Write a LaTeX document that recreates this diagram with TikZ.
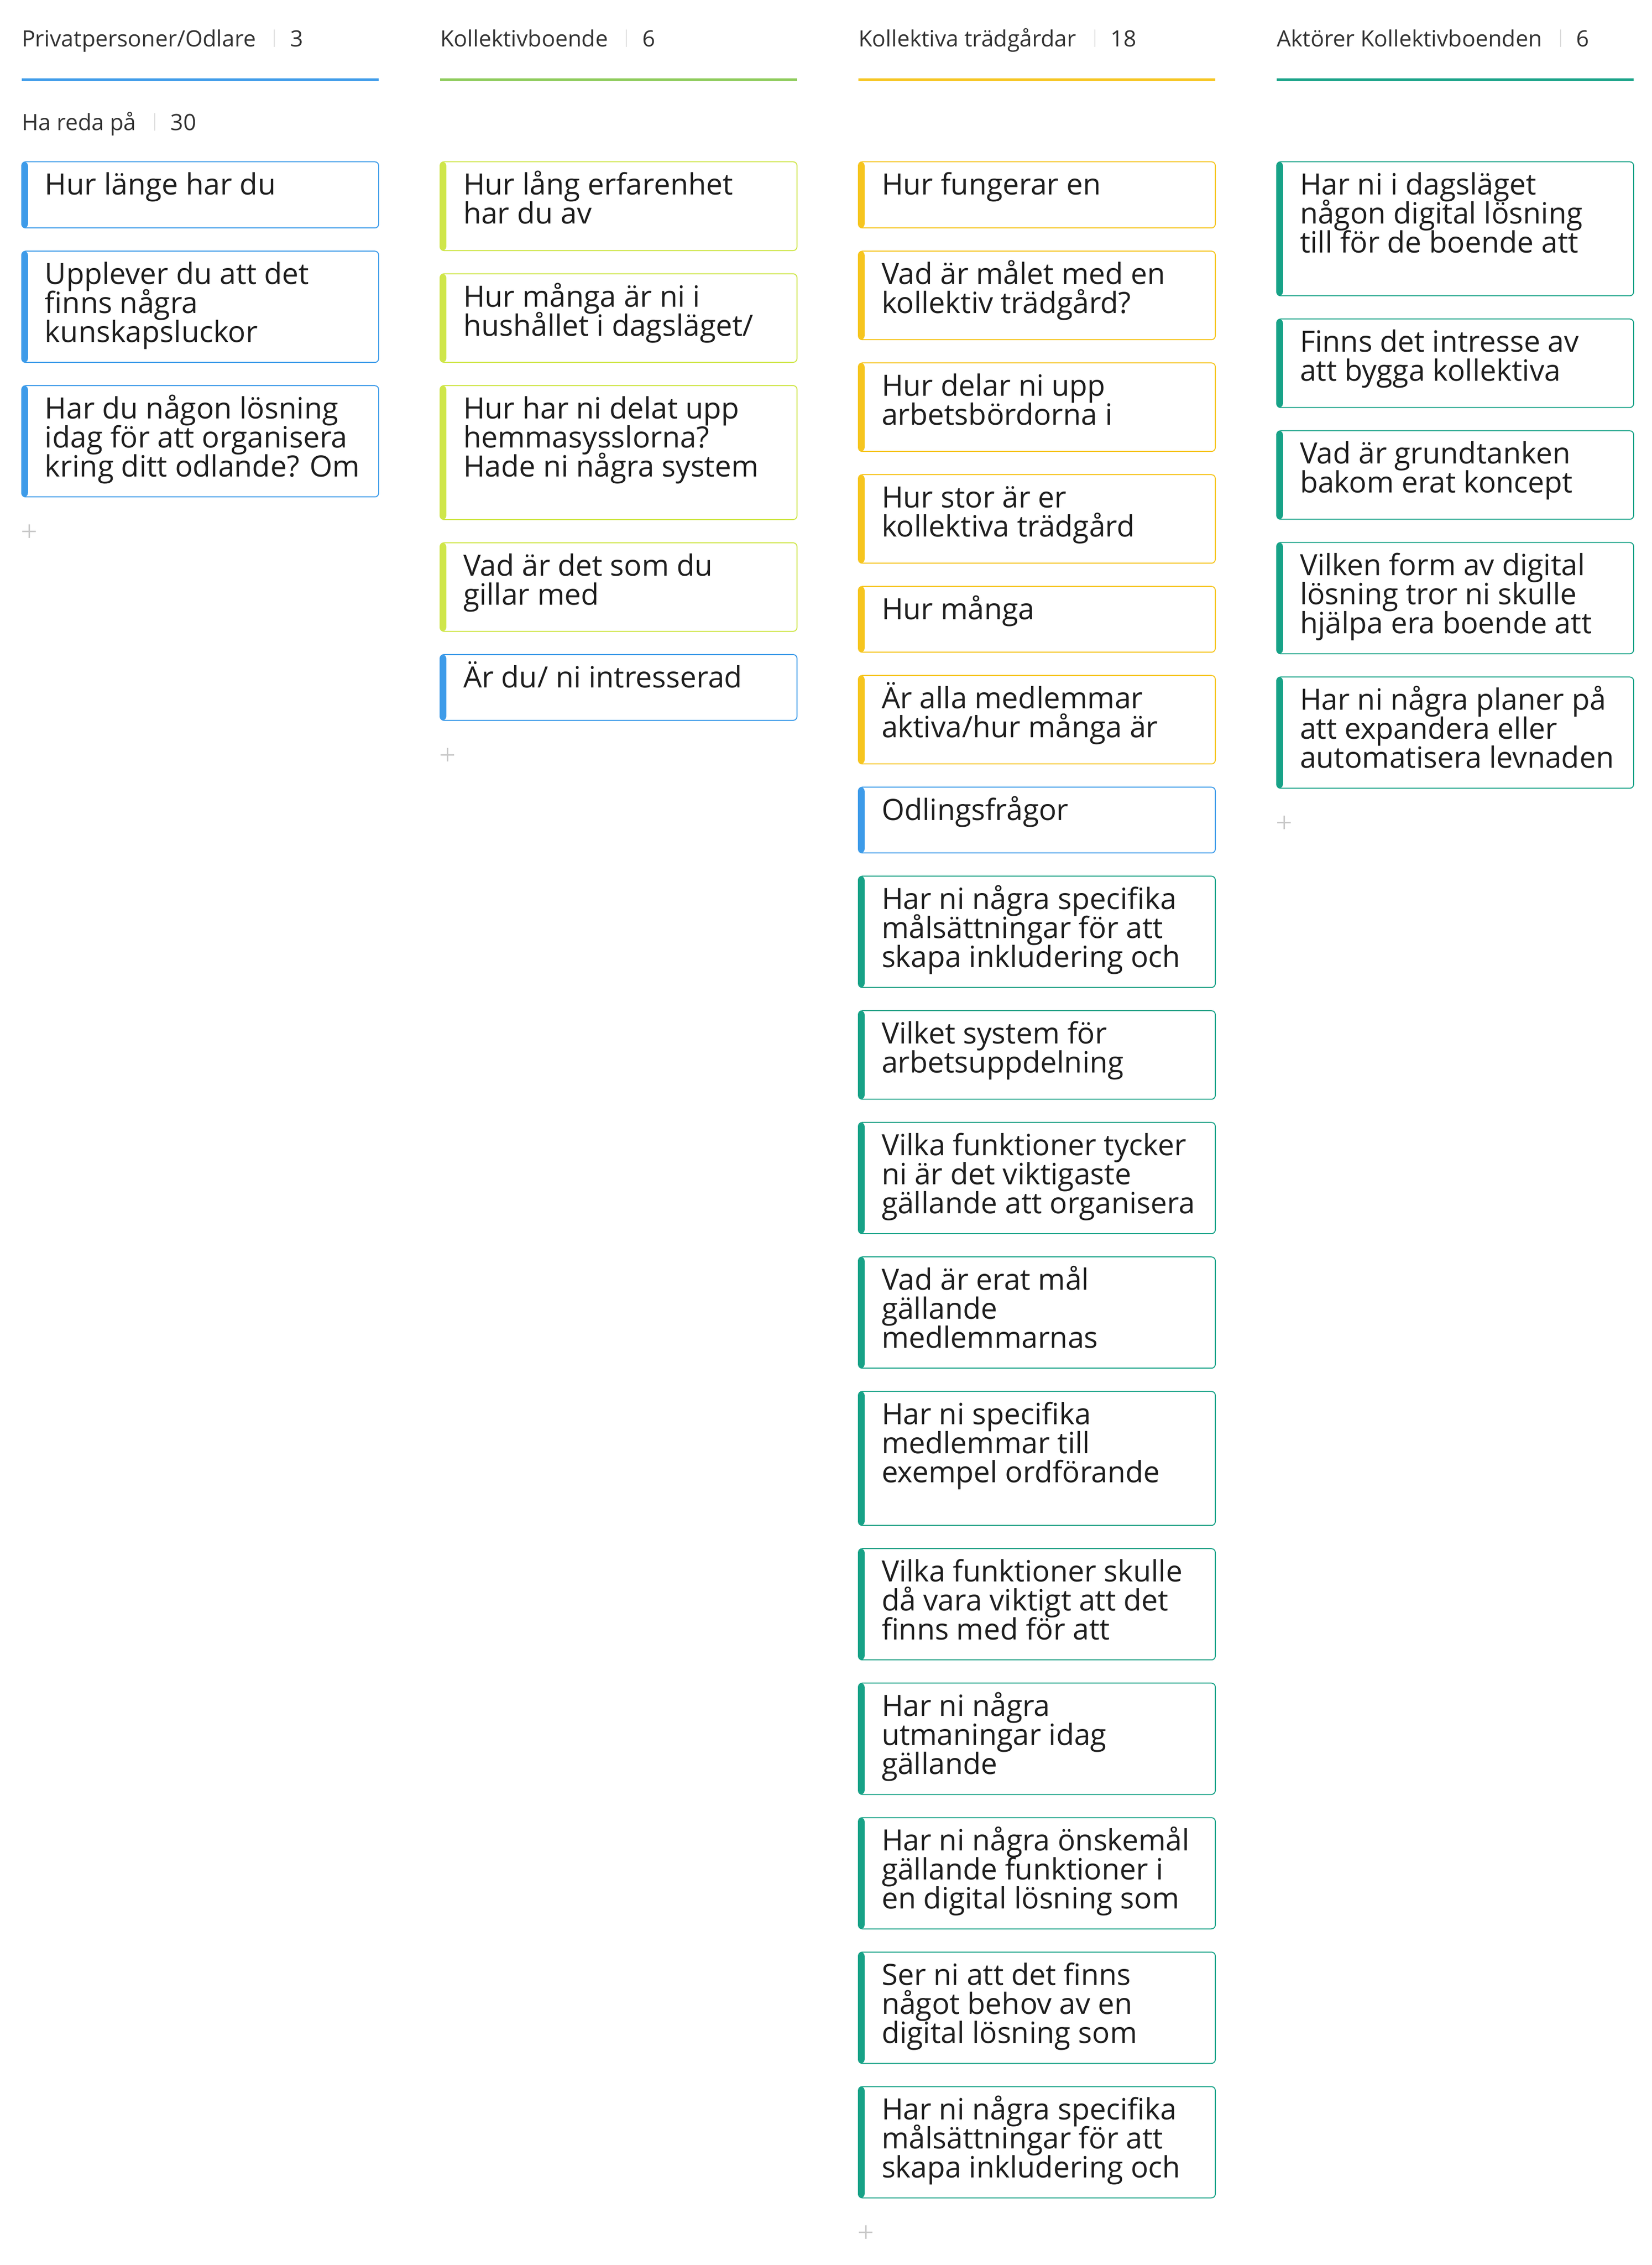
\documentclass[tikz,border=0pt]{standalone}
\usepackage{fontspec}
\setmainfont{Open Sans}
\usetikzlibrary{calc}
\definecolor{cblue}{HTML}{3D9BE9}
\definecolor{cgreen}{HTML}{8DCB5A}
\definecolor{clime}{HTML}{CFE64A}
\definecolor{cyellow}{HTML}{F6C51F}
\definecolor{cteal}{HTML}{17A287}
\definecolor{cardink}{HTML}{1E1E1E}
\definecolor{headink}{HTML}{333333}
\definecolor{sepgray}{HTML}{DCDCDC}
\definecolor{plusgray}{HTML}{C8C8C8}
\newcommand\cardfont{\fontsize{15.15pt}{15pt}\selectfont\lineskiplimit=-30pt\relax}
\newcommand\headfont{\fontsize{11.6pt}{14pt}\selectfont}
\newcommand\qcard[5]{%
  \node[card=#4, minimum height=#3, #2] (#1) {};
  \node[cardtext] (#1t) at ([xshift=12pt,yshift=-17pt]#1.north west)
    {\parbox[t]{174pt}{\lineskiplimit=-30pt\raggedright #5}};
}
\newcommand\colhead[5]{%
  \node[headtext] (#1) at (#2,#3) {#4};
  \node[headtext] (#1n) at ([xshift=17.75pt]#1.base east) {#5};
  \draw[sepline] ([xshift=9.5pt,yshift=-0.25pt]#1.base east) -- ++(0,9pt);
}
\newcommand\addplus[2]{%
  \coordinate (#1) at ([xshift=3.75pt,yshift=-17.75pt]#2.south west);
  \draw[plusmark] ([xshift=-3.5pt]#1) -- ([xshift=3.5pt]#1)
                  ([yshift=-3.5pt]#1) -- ([yshift=3.5pt]#1);
}
\begin{document}
\begin{tikzpicture}[x=1pt,y=1pt,
  card/.style={draw=#1, line width=0.5pt, rounded corners=2pt,
    minimum width=184.5pt, inner sep=0pt, outer sep=0pt, fill=white,
    anchor=north west,
    path picture={\fill[#1] (path picture bounding box.south west)
       rectangle ([xshift=3.2pt]path picture bounding box.north west);}},
  cardtext/.style={anchor=base west, inner sep=0pt, outer sep=0pt,
    text=cardink, font=\cardfont},
  headtext/.style={anchor=base west, inner sep=0pt, outer sep=0pt,
    text=headink, font=\headfont},
  sepline/.style={draw=sepgray, line width=0.5pt},
  hbar/.style={anchor=north west, minimum width=184.5pt, minimum height=1.25pt,
    inner sep=0pt, outer sep=0pt, fill=#1, draw=none},
  plusmark/.style={draw=plusgray, line width=0.75pt}
]
\useasboundingbox[fill=white] (0,0) rectangle (854,-1170.5);

% ---------- headers ----------
\colhead{h1}{11.25}{-24}{Privatpersoner/Odlare}{3}
\colhead{h2}{227.5}{-24}{Kollektivboende}{6}
\colhead{h3}{443.75}{-24}{Kollektiva trädgårdar}{18}
\colhead{h4}{660}{-24}{Aktörer Kollektivboenden}{6}
\node[hbar=cblue]   (b1) at (11.25,-40.5) {};
\node[hbar=cgreen]  (b2) at (227.5,-40.5) {};
\node[hbar=cyellow] (b3) at (443.75,-40.5) {};
\node[hbar=cteal]   (b4) at (660,-40.5) {};
\colhead{g1}{11.25}{-67.25}{Ha reda på}{30}

% ---------- column 1 ----------
\qcard{a1}{at={(11.25,-83.6)}}{34.2pt}{cblue}{Hur länge har du}
\qcard{a2}{at={([yshift=-12pt]a1.south west)}}{57.5pt}{cblue}{Upplever du att det\\finns några\\kunskapsluckor}
\qcard{a3}{at={([yshift=-12pt]a2.south west)}}{57.5pt}{cblue}{Har du någon lösning\\idag för att organisera\\kring ditt odlande? Om}
\addplus{pa}{a3}

% ---------- column 2 ----------
\qcard{k1}{at={(227.5,-83.6)}}{45.9pt}{clime}{Hur lång erfarenhet\\har du av}
\qcard{k2}{at={([yshift=-12pt]k1.south west)}}{45.75pt}{clime}{Hur många är ni i\\hushållet i dagsläget/}
\qcard{k3}{at={([yshift=-12pt]k2.south west)}}{69.25pt}{clime}{Hur har ni delat upp\\hemmasysslorna?\\Hade ni några system}
\qcard{k4}{at={([yshift=-12pt]k3.south west)}}{45.75pt}{clime}{Vad är det som du\\gillar med}
\qcard{k5}{at={([yshift=-12pt]k4.south west)}}{34pt}{cblue}{Är du/ ni intresserad}
\addplus{pk}{k5}

% ---------- column 3 ----------
\qcard{t1}{at={(443.75,-83.6)}}{34.2pt}{cyellow}{Hur fungerar en}
\qcard{t2}{at={([yshift=-12pt]t1.south west)}}{45.75pt}{cyellow}{Vad är målet med en\\kollektiv trädgård?}
\qcard{t3}{at={([yshift=-12pt]t2.south west)}}{45.75pt}{cyellow}{Hur delar ni upp\\arbetsbördorna i}
\qcard{t4}{at={([yshift=-12pt]t3.south west)}}{45.75pt}{cyellow}{Hur stor är er\\kollektiva trädgård}
\qcard{t5}{at={([yshift=-12pt]t4.south west)}}{34pt}{cyellow}{Hur många}
\qcard{t6}{at={([yshift=-12pt]t5.south west)}}{45.75pt}{cyellow}{Är alla medlemmar\\aktiva/hur många är}
\qcard{t7}{at={([yshift=-12pt]t6.south west)}}{34pt}{cblue}{Odlingsfrågor}
\qcard{t8}{at={([yshift=-12pt]t7.south west)}}{57.5pt}{cteal}{Har ni några specifika\\målsättningar för att\\skapa inkludering och}
\qcard{t9}{at={([yshift=-12pt]t8.south west)}}{45.75pt}{cteal}{Vilket system för\\arbetsuppdelning}
\qcard{t10}{at={([yshift=-12pt]t9.south west)}}{57.5pt}{cteal}{Vilka funktioner tycker\\ni är det viktigaste\\gällande att organisera}
\qcard{t11}{at={([yshift=-12pt]t10.south west)}}{57.5pt}{cteal}{Vad är erat mål\\gällande\\medlemmarnas}
\qcard{t12}{at={([yshift=-12pt]t11.south west)}}{69.25pt}{cteal}{Har ni specifika\\medlemmar till\\exempel ordförande}
\qcard{t13}{at={([yshift=-12pt]t12.south west)}}{57.5pt}{cteal}{Vilka funktioner skulle\\då vara viktigt att det\\finns med för att}
\qcard{t14}{at={([yshift=-12pt]t13.south west)}}{57.5pt}{cteal}{Har ni några\\utmaningar idag\\gällande}
\qcard{t15}{at={([yshift=-12pt]t14.south west)}}{57.5pt}{cteal}{Har ni några önskemål\\gällande funktioner i\\en digital lösning som}
\qcard{t16}{at={([yshift=-12pt]t15.south west)}}{57.5pt}{cteal}{Ser ni att det finns\\något behov av en\\digital lösning som}
\qcard{t17}{at={([yshift=-12pt]t16.south west)}}{57.5pt}{cteal}{Har ni några specifika\\målsättningar för att\\skapa inkludering och}
\addplus{pt}{t17}

% ---------- column 4 ----------
\qcard{r1}{at={(660,-83.6)}}{69.25pt}{cteal}{Har ni i dagsläget\\någon digital lösning\\till för de boende att}
\qcard{r2}{at={([yshift=-12pt]r1.south west)}}{45.75pt}{cteal}{Finns det intresse av\\att bygga kollektiva}
\qcard{r3}{at={([yshift=-12pt]r2.south west)}}{45.75pt}{cteal}{Vad är grundtanken\\bakom erat koncept}
\qcard{r4}{at={([yshift=-12pt]r3.south west)}}{57.5pt}{cteal}{Vilken form av digital\\lösning tror ni skulle\\hjälpa era boende att}
\qcard{r5}{at={([yshift=-12pt]r4.south west)}}{57.5pt}{cteal}{Har ni några planer på\\att expandera eller\\automatisera levnaden}
\addplus{pr}{r5}
\end{tikzpicture}
\end{document}
